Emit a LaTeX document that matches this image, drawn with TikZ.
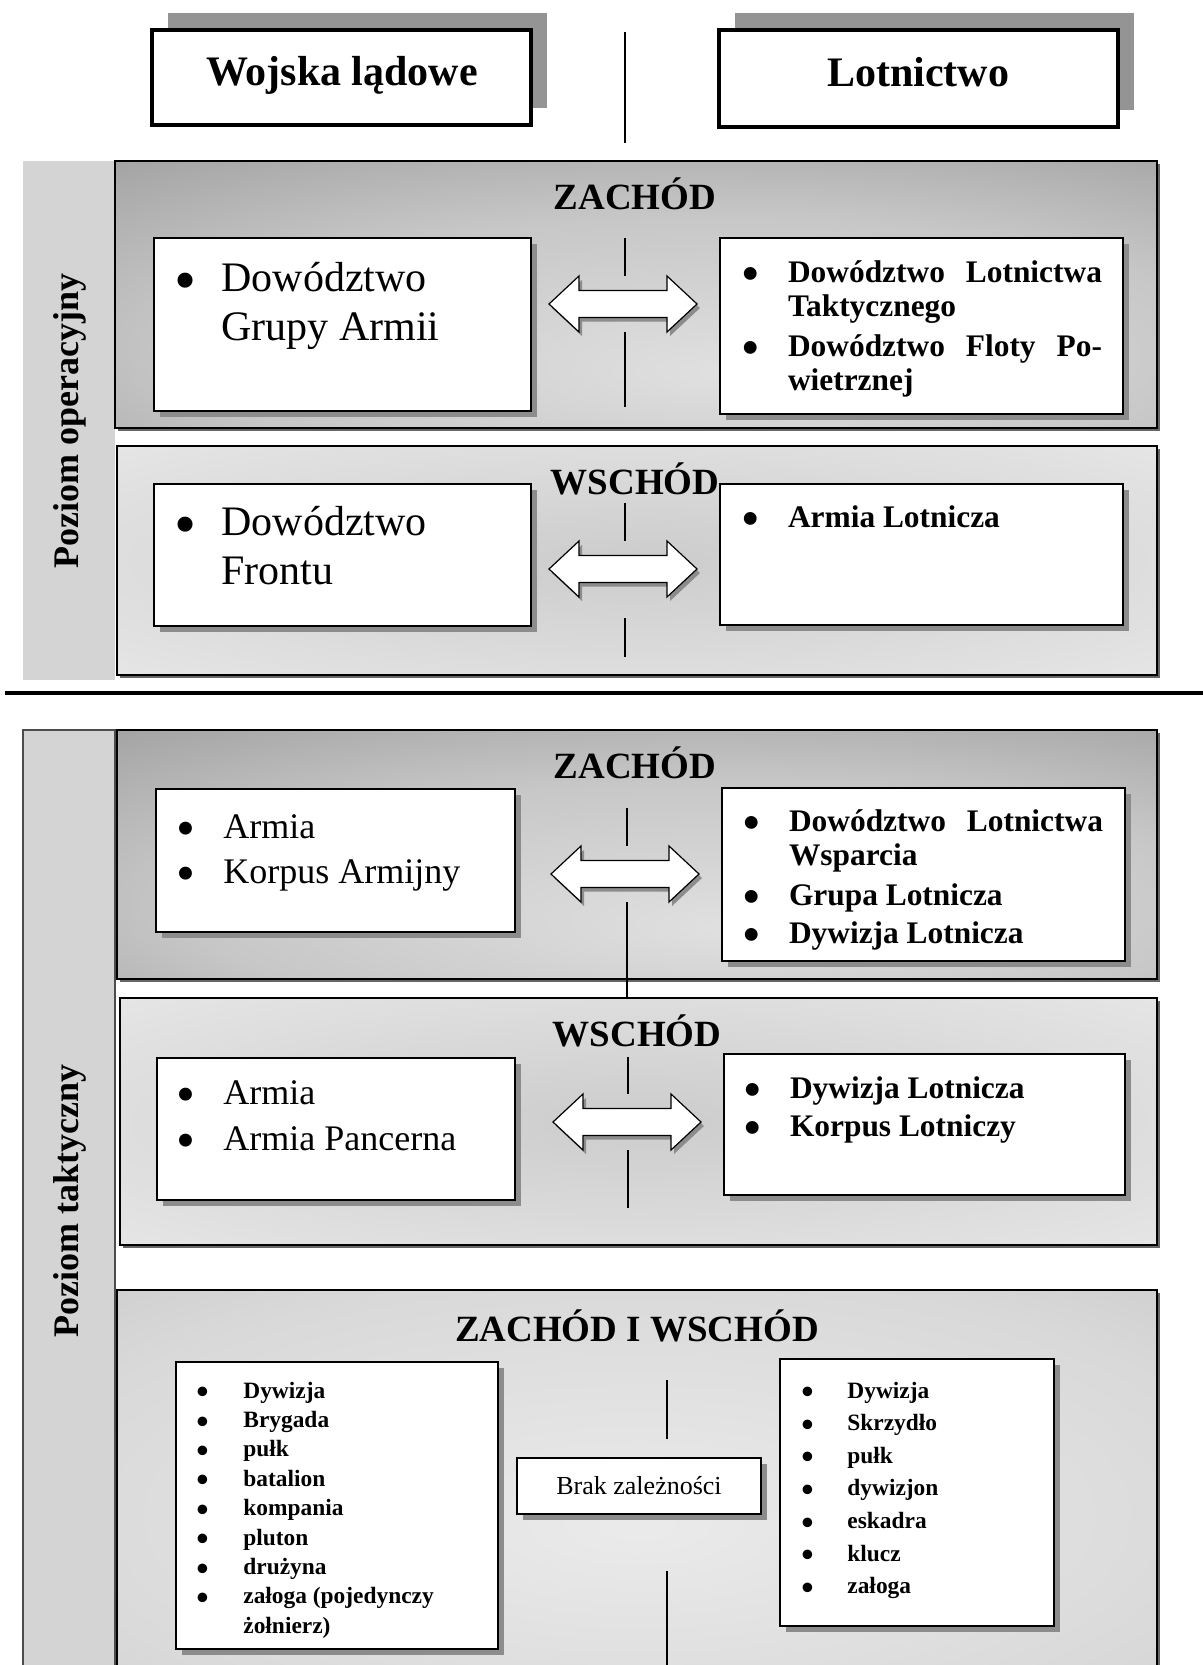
\documentclass[tikz,border=0pt]{standalone}
\usepackage{fontspec}
\setmainfont{Liberation Serif}
\usetikzlibrary{fit,shadows,calc}
\pgfdeclareradialshading{zach}{\pgfpoint{5bp}{-15bp}}{color(0bp)=(black!12); color(25bp)=(black!22); color(50bp)=(black!42); color(80bp)=(black!52)}
\pgfdeclareradialshading{wsch}{\pgfpoint{0bp}{0bp}}{color(0bp)=(black!20); color(25bp)=(black!13); color(50bp)=(black!6); color(80bp)=(black!4)}
\pgfdeclareradialshading{both}{\pgfpoint{0bp}{-5bp}}{color(0bp)=(black!8); color(30bp)=(black!15); color(60bp)=(black!28); color(80bp)=(black!34)}
\newcommand\mybul{\smash{\raisebox{-0.24em}{\scalebox{1.5}{\textbullet}}}}
\begin{document}
\begin{tikzpicture}[x=0.5pt,y=-0.5pt,
  hdr/.style={draw=black, line width=2.2pt, fill=white, inner sep=0pt,
    drop shadow={shadow xshift=8pt, shadow yshift=8.5pt, fill=black!42, opacity=1}},
  panel/.style={draw=black, line width=0.8pt, inner sep=0pt,
    drop shadow={shadow xshift=1.5pt, shadow yshift=-1.5pt, fill=black!60, opacity=1}},
  inbox/.style={draw=black, line width=0.7pt, fill=white, inner sep=0pt,
    drop shadow={shadow xshift=3pt, shadow yshift=-3pt, fill=black!45, opacity=1}},
  strip/.style={fill=black!17, inner sep=0pt},
  ttl/.style={font=\fontsize{18.5pt}{20pt}\selectfont\bfseries, anchor=base, inner sep=0pt},
  lst/.style={anchor=base west, inner sep=0pt},
  vline/.style={line width=0.6pt},
  dblarrow/.pic={
    \fill[black!45, shift={(3,4)}] (-74,0) -- (-44,-28) -- (-44,-13.5) -- (44,-13.5) -- (44,-28) -- (74,0) -- (44,28) -- (44,13.5) -- (-44,13.5) -- (-44,28) -- cycle;
    \draw[fill=white, line width=0.6pt, line join=miter] (-74,0) -- (-44,-28) -- (-44,-13.5) -- (44,-13.5) -- (44,-28) -- (74,0) -- (44,28) -- (44,13.5) -- (-44,13.5) -- (-44,28) -- cycle;
  }
]
\useasboundingbox (0,0) rectangle (1203,1665);
\fill[white] (0,0) rectangle (1203,1665);

% headers
\node[hdr, fit={(152,30) (531,125)}] (hL) {};
\node[font=\fontsize{21pt}{24pt}\selectfont\bfseries, anchor=base] (hLt) at (342,85) {Wojska lądowe};
\node[hdr, fit={(719,30) (1118,127)}] (hR) {};
\node[font=\fontsize{21pt}{24pt}\selectfont\bfseries, anchor=base] (hRt) at (918,86) {Lotnictwo};
\draw[vline] (625,32) -- (625,143);

% strips
\node[strip, fit={(23,161) (115,680)}] (sOp) {};
\node[rotate=90, font=\fontsize{18pt}{20pt}\selectfont\bfseries] (sOpT) at (70,421) {Poziom operacyjny};
\node[strip, draw=black!70, line width=0.6pt, fit={(23,730) (115,1675)}] (sTa) {};
\node[rotate=90, font=\fontsize{18pt}{20pt}\selectfont\bfseries] (sTaT) at (70,1201) {Poziom taktyczny};

% panels
\node[panel, shading=zach, fit={(115,161) (1157,428)}] (p1) {};
\node[panel, shading=wsch, fit={(117,446) (1157,675)}] (p2) {};
\node[panel, shading=zach, fit={(117,730) (1157,979)}] (p3) {};
\node[panel, shading=wsch, fit={(120,998) (1157,1245)}] (p4) {};
\node[panel, shading=both, fit={(117,1290) (1157,1685)}] (p5) {};

\draw[line width=2pt] (5,693) -- (1203,693);

% titles
\node[ttl] (t1) at (635,209) {ZACHÓD};
\node[ttl] (t2) at (635,494) {WSCHÓD};
\node[ttl] (t3) at (635,778) {ZACHÓD};
\node[ttl] (t4) at (637,1046) {WSCHÓD};
\node[ttl] (t5) at (637,1341) {ZACHÓD I WSCHÓD};

% center lines
\draw[vline] (625,238) -- (625,276);
\draw[vline] (625,332) -- (625,407);
\draw[vline] (625,503) -- (625,541);
\draw[vline] (625,618) -- (625,657);
\draw[vline] (627,808) -- (627,846);
\draw[vline] (627,902) -- (627,998);
\draw[vline] (628,1057) -- (628,1094);
\draw[vline] (628,1150) -- (628,1208);
\draw[vline] (667,1380) -- (667,1439);
\draw[vline] (667,1571) -- (667,1665);

% operational boxes
\node[inbox, fit={(154,238) (531,411)}] (b1L) {};
\node[inbox, fit={(720,238) (1123,414)}] (b1R) {};
\node[inbox, fit={(154,484) (531,626)}] (b2L) {};
\node[inbox, fit={(720,484) (1123,625)}] (b2R) {};

\node[lst, font=\fontsize{21pt}{24.5pt}\selectfont] (x1L) at (174,291)
  {\begin{tabular}[t]{@{}p{23.5pt}@{}l@{}}\mybul & Dowództwo\\ & Grupy Armii\end{tabular}};
\node[lst, font=\fontsize{15.7pt}{17pt}\selectfont\bfseries] (x1R) at (742,282)
  {\begin{tabular}[t]{@{}p{22.8pt}@{}l@{}}\mybul & \makebox[157pt][s]{Dowództwo Lotnictwa}\\ & Taktycznego\\[3pt]
   \mybul & \makebox[157pt][s]{Dowództwo Floty Po-}\\ & wietrznej\end{tabular}};
\node[lst, font=\fontsize{21pt}{24.5pt}\selectfont] (x2L) at (174,535)
  {\begin{tabular}[t]{@{}p{23.5pt}@{}l@{}}\mybul & Dowództwo\\ & Frontu\end{tabular}};
\node[lst, font=\fontsize{15.7pt}{17pt}\selectfont\bfseries] (x2R) at (742,527)
  {\begin{tabular}[t]{@{}p{22.8pt}@{}l@{}}\mybul & Armia Lotnicza\end{tabular}};

% tactical boxes
\node[inbox, fit={(156,789) (515,932)}] (b3L) {};
\node[inbox, fit={(722,788) (1125,961)}] (b3R) {};
\node[inbox, fit={(157,1058) (515,1200)}] (b4L) {};
\node[inbox, fit={(724,1054) (1125,1195)}] (b4R) {};

\node[lst, font=\fontsize{18pt}{22.5pt}\selectfont] (x3L) at (176,838)
  {\begin{tabular}[t]{@{}p{23.5pt}@{}l@{}}\mybul & Armia\\ \mybul & Korpus Armijny\end{tabular}};
\node[lst, font=\fontsize{15.7pt}{17pt}\selectfont\bfseries] (x3R) at (743,831)
  {\begin{tabular}[t]{@{}p{22.8pt}@{}l@{}}\mybul & \makebox[157pt][s]{Dowództwo Lotnictwa}\\ & Wsparcia\\[3pt]
   \mybul & Grupa Lotnicza\\[2pt] \mybul & Dywizja Lotnicza\end{tabular}};
\node[lst, font=\fontsize{18pt}{23pt}\selectfont] (x4L) at (176,1104)
  {\begin{tabular}[t]{@{}p{23.5pt}@{}l@{}}\mybul & Armia\\ \mybul & Armia Pancerna\end{tabular}};
\node[lst, font=\fontsize{15.7pt}{19pt}\selectfont\bfseries] (x4R) at (744,1098)
  {\begin{tabular}[t]{@{}p{22.8pt}@{}l@{}}\mybul & Dywizja Lotnicza\\ \mybul & Korpus Lotniczy\end{tabular}};

% arrows
\coordinate (a1) at (623,304);
\coordinate (a2) at (623,569);
\coordinate (a3) at (625,874);
\coordinate (a4) at (627,1122);
\pic at (a1) {dblarrow};
\pic at (a2) {dblarrow};
\pic at (a3) {dblarrow};
\pic at (a4) {dblarrow};

% bottom
\node[inbox, fit={(176,1362) (498,1649)}] (b5L) {};
\node[inbox, fit={(780,1359) (1054,1626)}] (b5R) {};
\node[inbox, fit={(517,1458) (761,1514)}] (b5M) {};
\node[font=\fontsize{13pt}{15pt}\selectfont] (x5M) at (639,1486) {Brak zależności};
\node[lst, font=\fontsize{11.7pt}{14.7pt}\selectfont\bfseries] (x5L) at (196,1398)
  {\begin{tabular}[t]{@{}p{23.5pt}@{}l@{}}\mybul & Dywizja\\ \mybul & Brygada\\ \mybul & pułk\\ \mybul & batalion\\
   \mybul & kompania\\ \mybul & pluton\\ \mybul & drużyna\\ \mybul & załoga (pojedynczy\\ & żołnierz)\end{tabular}};
\node[lst, font=\fontsize{11.7pt}{16.3pt}\selectfont\bfseries] (x5R) at (801,1398)
  {\begin{tabular}[t]{@{}p{23pt}@{}l@{}}\mybul & Dywizja\\ \mybul & Skrzydło\\ \mybul & pułk\\ \mybul & dywizjon\\
   \mybul & eskadra\\ \mybul & klucz\\ \mybul & załoga\end{tabular}};
\end{tikzpicture}
\end{document}
